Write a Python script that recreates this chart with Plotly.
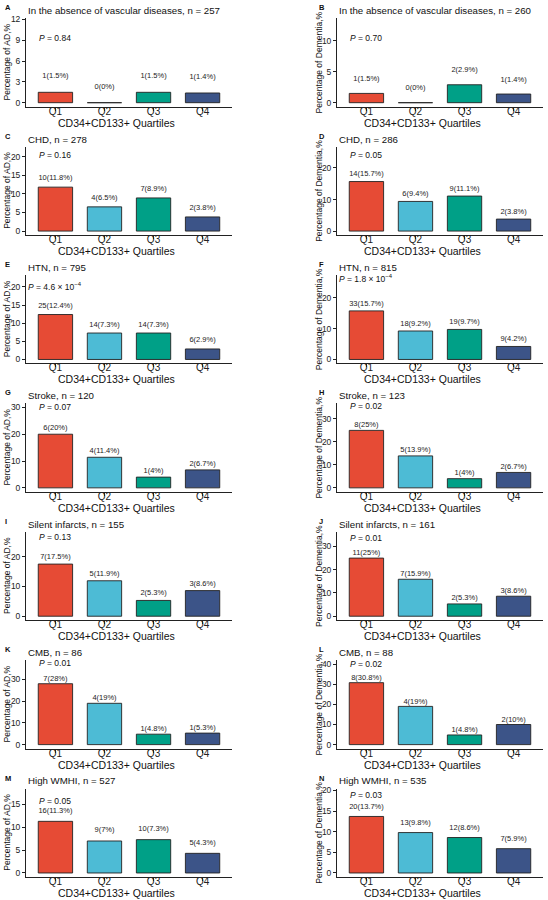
import plotly.graph_objects as go

quartiles = ["Q1", "Q2", "Q3", "Q4"]
fill_colors = ["#E64B35", "#4DBBD5", "#00A087", "#3C5488"]

letters = ["A", "B", "C", "D", "E", "F", "G", "H", "I", "J", "K", "L", "M", "N"]
titles = [
    "In the absence of vascular diseases, n = 257",
    "In the absence of vascular diseases, n = 260",
    "CHD, n = 278", "CHD, n = 286",
    "HTN, n = 795", "HTN, n = 815",
    "Stroke, n = 120", "Stroke, n = 123",
    "Silent infarcts, n = 155", "Silent infarcts, n = 161",
    "CMB, n = 86", "CMB, n = 88",
    "High WMHI, n = 527", "High WMHI, n = 535",
]
y_titles = ["Percentage of AD,%", "Percentage of Dementia,%"]
x_title = "CD34+CD133+ Quartiles"

counts = [
    [1, 0, 1, 1], [1, 0, 2, 1],
    [10, 4, 7, 2], [14, 6, 9, 2],
    [25, 14, 14, 6], [33, 18, 19, 9],
    [6, 4, 1, 2], [8, 5, 1, 2],
    [7, 5, 2, 3], [11, 7, 2, 3],
    [7, 4, 1, 1], [8, 4, 1, 2],
    [16, 9, 10, 5], [20, 13, 12, 7],
]
percents = [
    [1.5, 0, 1.5, 1.4], [1.5, 0, 2.9, 1.4],
    [11.8, 6.5, 8.9, 3.8], [15.7, 9.4, 11.1, 3.8],
    [12.4, 7.3, 7.3, 2.9], [15.7, 9.2, 9.7, 4.2],
    [20, 11.4, 4, 6.7], [25, 13.9, 4, 6.7],
    [17.5, 11.9, 5.3, 8.6], [25, 15.9, 5.3, 8.6],
    [28, 19, 4.8, 5.3], [30.8, 19, 4.8, 10],
    [11.3, 7, 7.3, 4.3], [13.7, 9.8, 8.6, 5.9],
]
p_texts = [
    "0.84", "0.70", "0.16", "0.05",
    "4.6 × 10<sup>−4</sup>", "1.8 × 10<sup>−4</sup>",
    "0.07", "0.02", "0.13", "0.01", "0.01", "0.02", "0.05", "0.03",
]

# axis scale settings per panel
y_limits = [11.6, 13, 21.6, 25.5, 22.2, 26, 30, 35, 27, 34.6, 37, 40, 17.6, 19.5]
y_dticks = [3, 5, 5, 10, 5, 10, 10, 10, 10, 10, 10, 10, 5, 5]
p_label_y = [9.3, 10.5, 20.5, 24.2, 20.2, 26.2, 30.3, 35.5, 26.5, 33.7, 37.4, 40.1, 15.8, 18.8]
label_offset = 2.3

W, H = 548, 900
FONT = "Liberation Sans, Arial, sans-serif"


def px(x):
    return x / W


def py(y):
    return 1 - y / H


fig = go.Figure()
annotations = []
layout_axes = {}

col_left = [26, 337]
col_right = [232, 543]
ytitle_x = [7, 319]
letter_x = [3, 317]
xtitle_x = [116, 422]

for i in range(14):
    row, col = i // 2, i % 2
    n = i + 1
    xa = "x" if n == 1 else f"x{n}"
    ya = "y" if n == 1 else f"y{n}"
    bottom = 103.3 + 129.1 * row
    top = bottom - 89
    x0, x1 = col_left[col], col_right[col]

    fig.add_trace(go.Bar(
        x=quartiles, y=percents[i], xaxis=xa, yaxis=ya, width=0.7,
        marker=dict(color=fill_colors, line=dict(color="#222222", width=0.9)),
        hoverinfo="skip", showlegend=False,
    ))
    fig.add_trace(go.Scatter(
        x=quartiles, y=[v + label_offset for v in percents[i]],
        xaxis=xa, yaxis=ya, mode="text",
        text=[f"{c}({v:g}%)" for c, v in zip(counts[i], percents[i])],
        textfont=dict(family=FONT, size=7.5, color="#222222"),
        textposition="middle center", hoverinfo="skip", showlegend=False,
    ))

    L = y_limits[i]
    axis_common = dict(
        showgrid=False, zeroline=False, showline=True, linecolor="#222222",
        linewidth=0.9, ticks="outside", ticklen=3, tickwidth=0.9,
        tickcolor="#222222", fixedrange=True,
    )
    layout_axes["xaxis" if n == 1 else f"xaxis{n}"] = dict(
        axis_common, domain=[px(x0), px(x1)], anchor=ya,
        type="category", range=[-0.6, 3.6], ticklabelstandoff=-8,
        tickfont=dict(family=FONT, size=10, color="#222222"),
    )
    layout_axes["yaxis" if n == 1 else f"yaxis{n}"] = dict(
        axis_common, domain=[py(bottom), py(top)], anchor=xa,
        range=[-0.05 * L, 1.05 * L], tick0=0, dtick=y_dticks[i],
        tickfont=dict(family=FONT, size=8.5, color="#222222"),
    )

    # panel letter
    annotations.append(dict(
        text=f"<b>{letters[i]}</b>", x=px(letter_x[col]), y=py(bottom - 99.5),
        xref="paper", yref="paper", xanchor="left", yanchor="middle",
        showarrow=False, font=dict(family=FONT, size=7.5, color="#111111"),
    ))
    # title
    annotations.append(dict(
        text=titles[i], x=px(x0), y=py(bottom - 96.6),
        xref="paper", yref="paper", xanchor="left", yanchor="middle",
        showarrow=False, font=dict(family=FONT, size=9.7, color="#111111"),
    ))
    # y title
    annotations.append(dict(
        text=y_titles[col], x=px(ytitle_x[col]), y=py((top + bottom) / 2),
        xref="paper", yref="paper", xanchor="center", yanchor="middle",
        textangle=-90, showarrow=False,
        font=dict(family=FONT, size=8.5, color="#111111"),
    ))
    # x title
    annotations.append(dict(
        text=x_title, x=px(xtitle_x[col]), y=py(bottom + 16),
        xref="paper", yref="paper", xanchor="center", yanchor="middle",
        showarrow=False, font=dict(family=FONT, size=10.5, color="#111111"),
    ))
    # P value
    annotations.append(dict(
        text=f"<i>P</i> = {p_texts[i]}", x=0, y=p_label_y[i],
        xref=xa, yref=ya, xanchor="center", yanchor="middle",
        showarrow=False, font=dict(family=FONT, size=8.5, color="#111111"),
    ))

fig.update_layout(
    width=W, height=H, margin=dict(l=0, r=0, t=0, b=0),
    paper_bgcolor="white", plot_bgcolor="white",
    showlegend=False, annotations=annotations,
    **layout_axes,
)

fig.write_html("out.html")
